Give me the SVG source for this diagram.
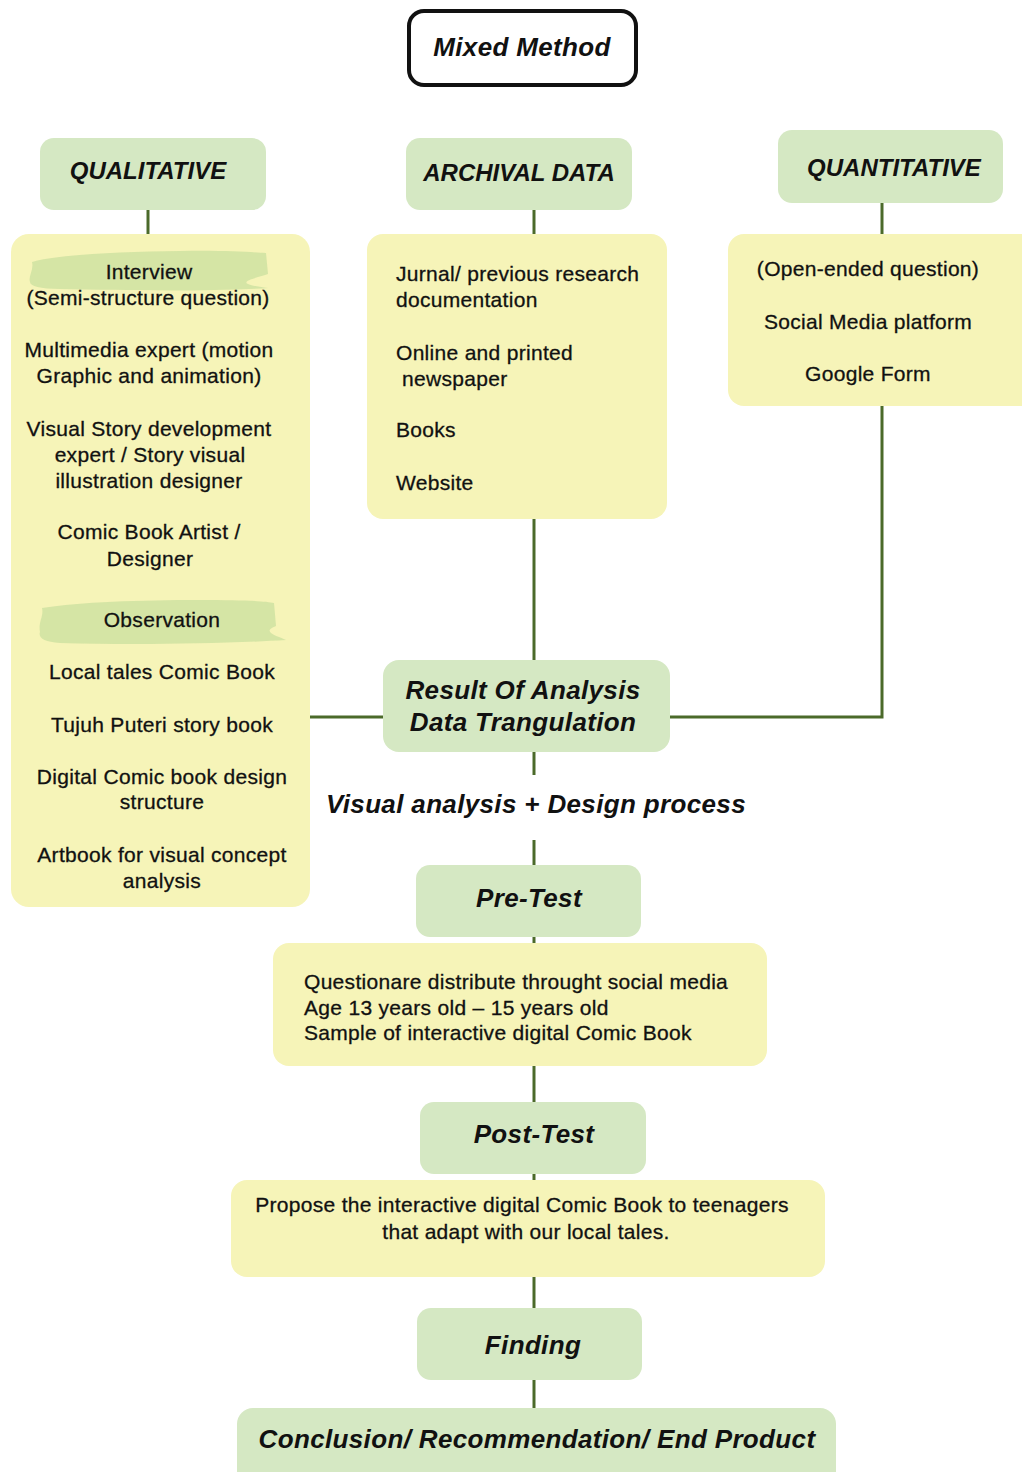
<svg xmlns="http://www.w3.org/2000/svg" width="1022" height="1472" viewBox="0 0 1022 1472">
<style>
.g{fill:#d5e8c3}
.y{fill:#f6f4b8}
.h{font-family:"Liberation Sans",Arial,sans-serif;font-weight:bold;font-style:italic;font-size:24px;fill:#111;text-anchor:middle}
.h2{font-size:26px;letter-spacing:0.35px}
.t{font-family:"Liberation Sans",Arial,sans-serif;font-size:21px;fill:#111;stroke:#111;stroke-width:0.3;letter-spacing:0.3px}
.c{text-anchor:middle}
.ln{stroke:#4b6a2a;stroke-width:3;fill:none}
.br{fill:#cfe2a1}
</style>
<rect width="1022" height="1472" fill="#fff"/>
<g id="connectors">
<path class="ln" d="M148 210V234"/>
<path class="ln" d="M534 210V234"/>
<path class="ln" d="M882 203V234"/>
<path class="ln" d="M534 519V660"/>
<path class="ln" d="M882 406V717H670"/>
<path class="ln" d="M310 717H383"/>
<path class="ln" d="M534 752V775"/>
<path class="ln" d="M534 840V865"/>
<path class="ln" d="M534 937V943"/>
<path class="ln" d="M534 1066V1102"/>
<path class="ln" d="M534 1174V1180"/>
<path class="ln" d="M534 1277V1308"/>
<path class="ln" d="M534 1380V1408"/>
</g>
<g id="mixed-method">
<rect x="409" y="11" width="227" height="74" rx="15" fill="#fff" stroke="#111" stroke-width="4"/>
<text class="h h2" x="522" y="56">Mixed Method</text>
</g>
<g id="qualitative">
<rect class="g" x="40" y="138" width="226" height="72" rx="14"/>
<text class="h" x="148" y="179">QUALITATIVE</text>
</g>
<g id="archival">
<rect class="g" x="406" y="138" width="226" height="72" rx="14"/>
<text class="h" x="519" y="181">ARCHIVAL DATA</text>
</g>
<g id="quantitative">
<rect class="g" x="778" y="130" width="225" height="73" rx="14"/>
<text class="h" x="894" y="176">QUANTITATIVE</text>
</g>
<g id="qualitative-items">
<rect class="y" x="11" y="234" width="299" height="673" rx="18"/>
<path class="br" opacity="0.85" d="M32 262 C60 254 120 252 180 251 C220 250 250 252 266 253 L268 274 C250 280 230 283 268 288 C200 292 120 290 60 289 C40 289 30 286 30 282 C28 276 34 270 32 262Z"/>
<path class="br" opacity="0.85" d="M42 608 C80 602 140 600 200 600 C240 600 265 601 274 603 L276 626 C260 632 278 636 286 640 C220 644 130 645 60 643 C44 642 38 638 40 632 C38 622 44 616 42 608Z"/>
<g class="t c">
<text x="149" y="279">Interview</text>
<text x="148" y="305">(Semi-structure question)</text>
<text x="149" y="357">Multimedia expert (motion</text>
<text x="149" y="383">Graphic and animation)</text>
<text x="149" y="436">Visual Story development</text>
<text x="150" y="462">expert / Story visual</text>
<text x="149" y="488">illustration designer</text>
<text x="149" y="539">Comic Book Artist /</text>
<text x="150" y="566">Designer</text>
<text x="162" y="627">Observation</text>
<text x="162" y="679">Local tales Comic Book</text>
<text x="162" y="732">Tujuh Puteri story book</text>
<text x="162" y="784">Digital Comic book design</text>
<text x="162" y="809">structure</text>
<text x="162" y="862">Artbook for visual concept</text>
<text x="162" y="888">analysis</text>
</g>
</g>
<g id="archival-items">
<rect class="y" x="367" y="234" width="300" height="285" rx="16"/>
<g class="t">
<text x="396" y="281">Jurnal/ previous research</text>
<text x="396" y="307">documentation</text>
<text x="396" y="360">Online and printed</text>
<text x="402" y="386">newspaper</text>
<text x="396" y="437">Books</text>
<text x="396" y="490">Website</text>
</g>
</g>
<g id="quantitative-items">
<rect class="y" x="728" y="234" width="310" height="172" rx="16"/>
<g class="t c">
<text x="868" y="276">(Open-ended question)</text>
<text x="868" y="329">Social Media platform</text>
<text x="868" y="381">Google Form</text>
</g>
</g>
<g id="result">
<rect class="g" x="383" y="660" width="287" height="92" rx="16"/>
<text class="h h2" x="523" y="699">Result Of Analysis</text>
<text class="h h2" x="523" y="731">Data Trangulation</text>
</g>
<g id="visual-analysis">
<text class="h h2" x="536" y="813">Visual analysis + Design process</text>
</g>
<g id="pre-test">
<rect class="g" x="416" y="865" width="225" height="72" rx="14"/>
<text class="h h2" x="529" y="907">Pre-Test</text>
</g>
<g id="pre-test-items">
<rect class="y" x="273" y="943" width="494" height="123" rx="16"/>
<g class="t">
<text x="304" y="989">Questionare distribute throught social media</text>
<text x="304" y="1015">Age 13 years old – 15 years old</text>
<text x="304" y="1040">Sample of interactive digital Comic Book</text>
</g>
</g>
<g id="post-test">
<rect class="g" x="420" y="1102" width="226" height="72" rx="14"/>
<text class="h h2" x="534" y="1143">Post-Test</text>
</g>
<g id="post-test-items">
<rect class="y" x="231" y="1180" width="594" height="97" rx="16"/>
<g class="t c">
<text x="522" y="1212">Propose the interactive digital Comic Book to teenagers</text>
<text x="526" y="1239">that adapt with our local tales.</text>
</g>
</g>
<g id="finding">
<rect class="g" x="417" y="1308" width="225" height="72" rx="14"/>
<text class="h h2" x="533" y="1354">Finding</text>
</g>
<g id="conclusion">
<rect class="g" x="237" y="1408" width="599" height="80" rx="16"/>
<text class="h h2" x="537" y="1448">Conclusion/ Recommendation/ End Product</text>
</g>
</svg>
